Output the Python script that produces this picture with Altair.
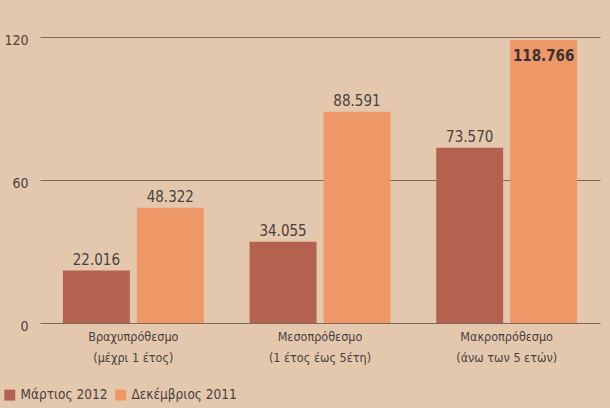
import altair as alt
import pandas as pd

categories = ["Βραχυπρόθεσμο|(μέχρι 1 έτος)", "Μεσοπρόθεσμο|(1 έτος έως 5έτη)", "Μακροπρόθεσμο|(άνω των 5 ετών)"]
series = ["Μάρτιος 2012", "Δεκέμβριος 2011"]
mar_2012 = [22.016, 34.055, 73.570]
dec_2011 = [48.322, 88.591, 118.766]
y_ticks = [0, 60, 120]
colors = ["#b5614f", "#ee9868"]

rows = []
for i, c in enumerate(categories):
    rows.append({"cat": c, "series": series[0], "value": mar_2012[i]})
    rows.append({"cat": c, "series": series[1], "value": dec_2011[i]})
df = pd.DataFrame(rows)
vmax = max(mar_2012 + dec_2011)
df["inside"] = df["value"] >= vmax

FONT = "DejaVu Sans Condensed, sans-serif"
TXT = "#4a4040"

x_enc = alt.X("cat:N", sort=categories,
              scale=alt.Scale(paddingInner=0, paddingOuter=0),
              axis=alt.Axis(title=None, labelExpr="split(datum.label, '|')",
                            labelAngle=0, labelFontSize=12.5, labelLineHeight=21,
                            labelColor=TXT, labelFont=FONT, labelPadding=7,
                            ticks=False, domain=False))
xo_enc = alt.XOffset("series:N", sort=series,
                     scale=alt.Scale(paddingInner=0.095, paddingOuter=0.31))
y_enc = alt.Y("value:Q", scale=alt.Scale(domain=[0, 120], nice=False),
              axis=alt.Axis(title=None, values=y_ticks, grid=True, gridColor="#7d6a5d",
                            gridWidth=1, gridOpacity=1, ticks=False, domain=False,
                            labelFontSize=14, labelColor=TXT, labelFont=FONT,
                            labelPadding=12, labelOffset=3))

base = alt.Chart(df)

bars = base.mark_bar().encode(
    x=x_enc, xOffset=xo_enc, y=y_enc,
    color=alt.Color("series:N", sort=series,
                    scale=alt.Scale(domain=series, range=colors),
                    legend=alt.Legend(title=None, orient="none", direction="horizontal",
                                      legendX=-37, legendY=351, symbolType="square",
                                      symbolSize=120, symbolStrokeWidth=0,
                                      labelFontSize=13.5, labelColor=TXT, labelFont=FONT,
                                      columnPadding=6, labelOffset=4)),
)

labels_out = base.transform_filter("!datum.inside").mark_text(
    baseline="alphabetic", dy=-6, fontSize=15, font=FONT, color=TXT
).encode(x=x_enc, xOffset=xo_enc, y=y_enc, text=alt.Text("value:Q", format=".3f"))

labels_in = base.transform_filter("datum.inside").mark_text(
    baseline="alphabetic", dy=21, fontSize=15, font=FONT, color="#3a3232", fontWeight="bold"
).encode(x=x_enc, xOffset=xo_enc, y=y_enc, text=alt.Text("value:Q", format=".3f"))

chart = alt.layer(bars, labels_out, labels_in).properties(
    width=560, height=286,
    autosize=alt.AutoSizeParams(type="none"),
    padding={"left": 40, "top": 37, "right": 10, "bottom": 85},
    background="#e4c8ad",
).configure_view(stroke=None)

chart.save("out.html", embed_options={"renderer": "svg", "actions": False})
